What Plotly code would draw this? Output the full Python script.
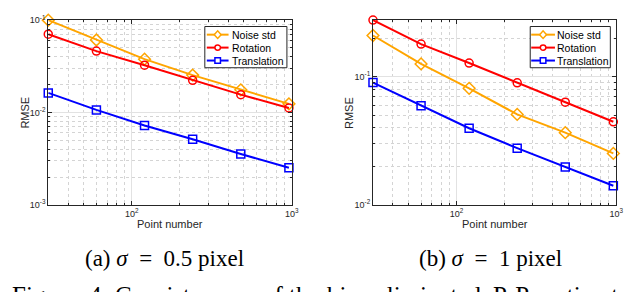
import plotly.graph_objects as go

points = [30, 60, 120, 240, 480, 960]

# (a) sigma = 0.5 pixel
a_noise = [0.100, 0.061, 0.0378, 0.0254, 0.0176, 0.0124]
a_rot = [0.0705, 0.0462, 0.0325, 0.0223, 0.0156, 0.0112]
a_trans = [0.0163, 0.01066, 0.00722, 0.00512, 0.00355, 0.00252]

# (b) sigma = 1 pixel
b_noise = [0.21, 0.126, 0.0812, 0.0508, 0.0366, 0.0252]
b_rot = [0.277, 0.18, 0.128, 0.0896, 0.0633, 0.0445]
b_trans = [0.090, 0.0594, 0.0396, 0.0277, 0.0197, 0.0141]

names = ["Noise std", "Rotation", "Translation"]
colors = ["#FFA500", "#FF0000", "#0000FF"]
symbols = ["diamond-open", "circle-open", "square-open"]
msizes = [9, 8, 8]

a_ytick = [0.001, 0.01, 0.1]
a_ytext = ["10<sup>-3</sup>", "10<sup>-2</sup>", "10<sup>-1</sup>"]
b_ytick = [0.01, 0.1]
b_ytext = ["10<sup>-2</sup>", "10<sup>-1</sup>"]
xtick = [100, 1000]
xtext = ["10<sup>2</sup>", "10<sup>3</sup>"]

x_minor = [30, 40, 50, 60, 70, 80, 90, 200, 300, 400, 500, 600, 700, 800, 900]
a_yminor = [0.002, 0.003, 0.004, 0.005, 0.006, 0.007, 0.008, 0.009,
            0.02, 0.03, 0.04, 0.05, 0.06, 0.07, 0.08, 0.09]
b_yminor = [0.02, 0.03, 0.04, 0.05, 0.06, 0.07, 0.08, 0.09, 0.2]

W, H = 640, 292


def px(x):
    return x / W


def py(y):
    return 1 - y / H


fig = go.Figure()
for series, xa, ya in [
    ([a_noise, a_rot, a_trans], "x", "y"),
    ([b_noise, b_rot, b_trans], "x2", "y2"),
]:
    for i, vals in enumerate(series):
        fig.add_trace(go.Scatter(
            x=points, y=vals, name=names[i], mode="lines+markers",
            line=dict(color=colors[i], width=2),
            marker=dict(symbol=symbols[i], size=msizes[i], color=colors[i],
                        line=dict(width=1.5, color=colors[i])),
            xaxis=xa, yaxis=ya, cliponaxis=False, showlegend=False,
        ))

axcol = "#262626"
tickfont = dict(family="Liberation Sans, Arial", size=9, color=axcol)


def axis(minor_vals, **kw):
    d = dict(
        type="log", showline=True, linecolor=axcol, linewidth=1, mirror="allticks",
        ticks="inside", ticklen=4, tickcolor=axcol, tickfont=tickfont,
        ticklabeloverflow="allow",
        showgrid=True, gridcolor="#e2e2e2", gridwidth=1, zeroline=False,
        minor=dict(tickmode="array", tickvals=minor_vals, ticks="inside", ticklen=2,
                   tickcolor=axcol, showgrid=True, gridcolor="#d4d4d4",
                   griddash="dot", gridwidth=1),
    )
    d.update(kw)
    return d


fig.update_layout(
    width=W, height=H, margin=dict(l=0, r=0, t=0, b=0),
    paper_bgcolor="white", plot_bgcolor="white", showlegend=False,
    xaxis=axis(x_minor, domain=[0.0636, 0.4484], range=[1.4771, 3.0005],
               tickvals=xtick, ticktext=xtext, anchor="y"),
    yaxis=axis(a_yminor, domain=[0.3219, 0.9818], range=[-3.0005, -0.9995],
               tickvals=a_ytick, ticktext=a_ytext, anchor="x"),
    xaxis2=axis(x_minor, domain=[0.5766, 0.9609], range=[1.4771, 3.0005],
                tickvals=xtick, ticktext=xtext, anchor="y2"),
    yaxis2=axis(b_yminor, domain=[0.3219, 0.9818], range=[-2.0005, -0.5575],
                tickvals=b_ytick, ticktext=b_ytext, anchor="x2"),
)

# Legend boxes (MATLAB style, compact), in pixel positions
shapes = []
ann = []
legfont = dict(family="Liberation Sans, Arial", size=10.5, color="black")
for (bx0, bx1, lx0, lx1, tx) in [(199, 282, 201, 223, 225), (528, 609, 529, 553, 554)]:
    by0, by1 = 12, 55
    shapes.append(dict(type="rect", xref="paper", yref="paper",
                       x0=px(bx0), x1=px(bx1), y0=py(by1), y1=py(by0),
                       line=dict(color=axcol, width=1), fillcolor="white", layer="above"))
    for i, rowy in enumerate([20.5, 34, 47.5]):
        c = colors[i]
        shapes.append(dict(type="line", xref="paper", yref="paper",
                           x0=px(lx0), x1=px(lx1), y0=py(rowy), y1=py(rowy),
                           line=dict(color=c, width=2), layer="above"))
        cx = (lx0 + lx1) / 2
        if i == 0:
            r = 3.5
            path = (f"M {px(cx - r)} {py(rowy)} L {px(cx)} {py(rowy - r - 0.5)} "
                    f"L {px(cx + r)} {py(rowy)} L {px(cx)} {py(rowy + r + 0.5)} Z")
            shapes.append(dict(type="path", xref="paper", yref="paper", path=path,
                               line=dict(color=c, width=1.5), fillcolor="white",
                               layer="above"))
        elif i == 1:
            r = 2.8
            shapes.append(dict(type="circle", xref="paper", yref="paper",
                               x0=px(cx - r), x1=px(cx + r), y0=py(rowy + r), y1=py(rowy - r),
                               line=dict(color=c, width=1.5), fillcolor="white",
                               layer="above"))
        else:
            r = 2.8
            shapes.append(dict(type="rect", xref="paper", yref="paper",
                               x0=px(cx - r), x1=px(cx + r), y0=py(rowy + r), y1=py(rowy - r),
                               line=dict(color=c, width=1.5), fillcolor="white",
                               layer="above"))
        ann.append(dict(text=names[i], x=px(tx), y=py(rowy), xref="paper", yref="paper",
                        showarrow=False, font=legfont, xanchor="left", yanchor="middle",
                        borderpad=0))

labfont = dict(family="Liberation Sans, Arial", size=11, color=axcol)
for cx in [164, 492]:
    ann.append(dict(text="Point number", x=px(cx), y=py(218), xref="paper",
                    yref="paper", showarrow=False, font=labfont,
                    xanchor="center", yanchor="middle"))
for cx in [17, 345]:
    ann.append(dict(text="RMSE", x=px(cx), y=py(102), xref="paper",
                    yref="paper", showarrow=False, font=labfont, textangle=-90,
                    xanchor="center", yanchor="middle"))
capfont = dict(family="Liberation Serif, Times New Roman", size=23, color="black")
ann.append(dict(text="(a) <i>σ</i>&nbsp;&nbsp;=&nbsp;&nbsp;0.5 pixel", x=px(158),
                y=py(254), xref="paper", yref="paper", showarrow=False,
                font=capfont, xanchor="center", yanchor="middle"))
ann.append(dict(text="(b) <i>σ</i>&nbsp;&nbsp;=&nbsp;&nbsp;1 pixel", x=px(488),
                y=py(254), xref="paper", yref="paper", showarrow=False,
                font=capfont, xanchor="center", yanchor="middle"))
figfont = dict(family="Liberation Serif, Times New Roman", size=25, color="black")
for word, wx in [("Figure", 2), ("4.", 80), ("Consistency", 106), ("of", 255),
                 ("the", 282), ("bias-eliminated", 320), ("P-P", 488),
                 ("estimator", 542)]:
    ann.append(dict(text=word, x=px(wx), y=py(293), xref="paper", yref="paper",
                    showarrow=False, font=figfont, xanchor="left", yanchor="middle"))

fig.update_layout(shapes=shapes, annotations=ann)

fig.write_html("out.html")
